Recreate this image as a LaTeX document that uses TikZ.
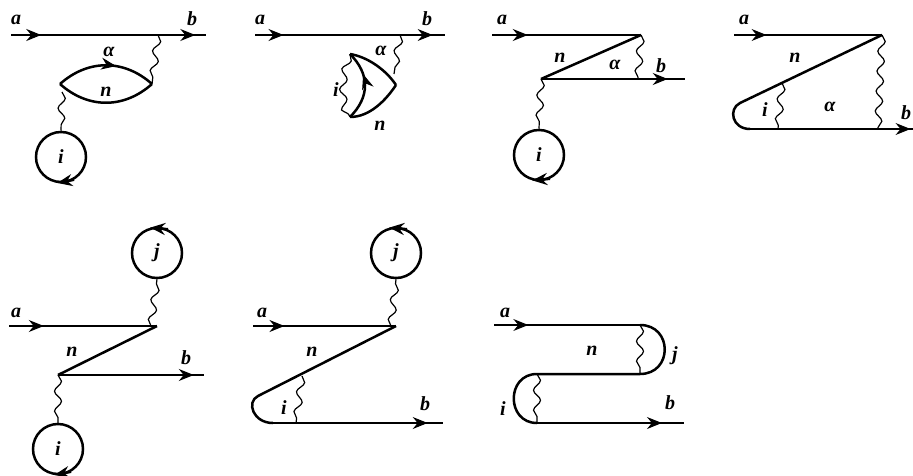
\documentclass[tikz,border=0pt]{standalone}
\usepackage{amsmath}
\usepackage{fontspec}
\setmainfont{Liberation Serif}
\usetikzlibrary{arrows.meta, decorations.pathmorphing, decorations.markings}

\begin{document}
\begin{tikzpicture}[
    x=1pt, y=-1pt,
    >={Stealth[length=15pt, width=12pt, inset=5pt]}, % Set default arrow tip style
    fermion/.style={line width=2.5pt}, % Style for solid lines
    wave/.style={line width=1.2pt, decorate, decoration={snake, amplitude=3.5pt, segment length=20pt}}, % Style for wavy lines
    labelstyle/.style={font=\fontsize{20}{20}\selectfont\bfseries\itshape}, % Style for labels
    loopnode/.style={draw, circle, line width=2.5pt, minimum size=50pt, inner sep=0pt, labelstyle}, % Closed loops
    tipat/.style={postaction={decorate, decoration={markings, mark=at position #1 with {\arrow[line width=1pt]{>}}}}} % Arrow along a path
]
    \useasboundingbox (0,0) rectangle (913,476);

    % --- First Diagram ---
    \coordinate (a1) at (11,35);
    \coordinate (b1) at (206,35);
    \coordinate (top1) at (158,35);
    \coordinate (right1) at (152,84);
    \coordinate (left1) at (60,84);
    \coordinate (low1) at (62,92);
    \node[loopnode] (i1) at (61,157) {i};
    \draw[fermion, tipat=0.155, tipat=0.945] (a1) -- (b1);
    \draw[fermion, tipat=0.6] (left1) .. controls +(28,-25) and +(-28,-25) .. (right1);
    \draw[fermion] (left1) .. controls +(28,25) and +(-28,25) .. (right1);
    \draw[wave] (top1) -- (right1);
    \draw[wave] (low1) -- (i1.north);
    \draw[fermion, ->] (i1.-60) -- (i1.-98);
    \node[labelstyle] (la1) at (16,20) {a};
    \node[labelstyle] (lb1) at (192,19) {b};
    \node[labelstyle] (lc1) at (109,52) {α};
    \node[labelstyle] (ln1) at (106,92) {n};

    % --- Second Diagram ---
    \coordinate (a2) at (255,35);
    \coordinate (b2) at (445,35);
    \coordinate (top2) at (400,35);
    \coordinate (side2) at (394,74);
    \coordinate (up2) at (350,54);
    \coordinate (right2) at (396,85);
    \coordinate (down2) at (350,117);
    \draw[fermion, tipat=0.15, tipat=0.935] (a2) -- (b2);
    \draw[fermion] (up2) .. controls +(18,3) and +(-10,-15) .. (right2);
    \draw[fermion] (down2) .. controls +(20,0) and +(-10,15) .. (right2);
    \draw[fermion, tipat=0.66] (down2) .. controls +(20,-20) and +(20,20) .. (up2);
    \draw[wave] (top2) -- (side2);
    \draw[wave] (up2) .. controls +(-7,20) and +(-7,-20) .. (down2);
    \node[labelstyle] (la2) at (260,20) {a};
    \node[labelstyle] (lb2) at (427,19) {b};
    \node[labelstyle] (lc2) at (381,51) {α};
    \node[labelstyle] (li2) at (336,90) {i};
    \node[labelstyle] (ln2) at (380,126) {n};

    % --- Third Diagram ---
    \coordinate (a3) at (492,35);
    \coordinate (up3) at (641,35);
    \coordinate (down3) at (541,79);
    \coordinate (b3) at (685,79);
    \coordinate (foot3) at (638,79);
    \node[loopnode] (i3) at (539,155) {i};
    \draw[fermion, tipat=0.24] (a3) -- (up3);
    \draw[fermion] (up3) -- (down3);
    \draw[fermion, tipat=0.88] (down3) -- (b3);
    \draw[wave] (up3) -- (foot3);
    \draw[wave] (down3) -- (i3.north);
    \draw[fermion, ->] (i3.-65) -- (i3.-105);
    \node[labelstyle] (la3) at (502,20) {a};
    \node[labelstyle] (ln3) at (560,58) {n};
    \node[labelstyle] (lc3) at (615,65) {α};
    \node[labelstyle] (lb3) at (661,66) {b};

    % --- Fourth Diagram ---
    \coordinate (a4) at (734,35);
    \coordinate (up4) at (882,35);
    \coordinate (cap4) at (740,103);
    \coordinate (low4) at (750,129);
    \coordinate (b4) at (913,129);
    \coordinate (foot4) at (878,129);
    \coordinate (mid4) at (782,83);
    \coordinate (base4) at (778,129);
    \draw[fermion, tipat=0.22] (a4) -- (up4);
    \draw[fermion] (up4) -- (cap4) .. controls +(-12,6) and +(-18,0) .. (low4);
    \draw[fermion, tipat=0.985] (low4) -- (b4);
    \draw[wave] (up4) -- (foot4);
    \draw[wave] (mid4) -- (base4);
    \node[labelstyle] (la4) at (744,20) {a};
    \node[labelstyle] (ln4) at (795,58) {n};
    \node[labelstyle] (li4) at (765,110) {i};
    \node[labelstyle] (lc4) at (830,107) {α};
    \node[labelstyle] (lb4) at (906,113) {b};

    % --- Fifth Diagram ---
    \coordinate (a5) at (9,326);
    \coordinate (up5) at (157,326);
    \coordinate (down5) at (58,375);
    \coordinate (b5) at (204,375);
    \coordinate (foot5) at (151,326);
    \node[loopnode] (j5) at (157,253) {j};
    \node[loopnode] (i5) at (58,449) {i};
    \draw[fermion, tipat=0.235] (a5) -- (up5);
    \draw[fermion] (up5) -- (down5);
    \draw[fermion, tipat=0.93] (down5) -- (b5);
    \draw[wave] (foot5) -- (j5.south);
    \draw[wave] (down5) -- (i5.north);
    \draw[fermion, ->] (j5.65) -- (j5.105);
    \draw[fermion, ->] (i5.-60) -- (i5.-98);
    \node[labelstyle] (la5) at (16,313) {a};
    \node[labelstyle] (ln5) at (72,352) {n};
    \node[labelstyle] (lb5) at (186,358) {b};

    % --- Sixth Diagram ---
    \coordinate (a6) at (253,326);
    \coordinate (up6) at (396,326);
    \coordinate (cap6) at (258,396);
    \coordinate (low6) at (273,423);
    \coordinate (b6) at (443,423);
    \coordinate (foot6) at (391,326);
    \coordinate (mid6) at (302,376);
    \coordinate (base6) at (296,423);
    \node[loopnode] (j6) at (396,253) {j};
    \draw[fermion, tipat=0.22] (a6) -- (up6);
    \draw[fermion] (up6) -- (cap6) .. controls +(-12,6) and +(-20,0) .. (low6);
    \draw[fermion, tipat=0.91] (low6) -- (b6);
    \draw[wave] (foot6) -- (j6.south);
    \draw[wave] (mid6) -- (base6);
    \draw[fermion, ->] (j6.65) -- (j6.105);
    \node[labelstyle] (la6) at (262,313) {a};
    \node[labelstyle] (ln6) at (312,352) {n};
    \node[labelstyle] (li6) at (284,408) {i};
    \node[labelstyle] (lb6) at (425,404) {b};

    % --- Seventh Diagram ---
    \coordinate (a7) at (494,325);
    \coordinate (up7) at (640,325);
    \coordinate (down7) at (640,374);
    \coordinate (back7) at (537,374);
    \coordinate (low7) at (537,423);
    \coordinate (b7) at (684,423);
    \draw[fermion, tipat=0.235] (a7) -- (up7);
    \draw[fermion] (up7) .. controls +(33,0) and +(33,0) .. (down7) -- (back7)
        .. controls +(-31,0) and +(-31,0) .. (low7);
    \draw[fermion, tipat=0.85] (low7) -- (b7);
    \draw[wave] (up7) -- (down7);
    \draw[wave] (back7) -- (low7);
    \node[labelstyle] (la7) at (505,313) {a};
    \node[labelstyle] (ln7) at (592,351) {n};
    \node[labelstyle] (lj7) at (675,356) {j};
    \node[labelstyle] (li7) at (503,409) {i};
    \node[labelstyle] (lb7) at (670,403) {b};

\end{tikzpicture}
\end{document}
